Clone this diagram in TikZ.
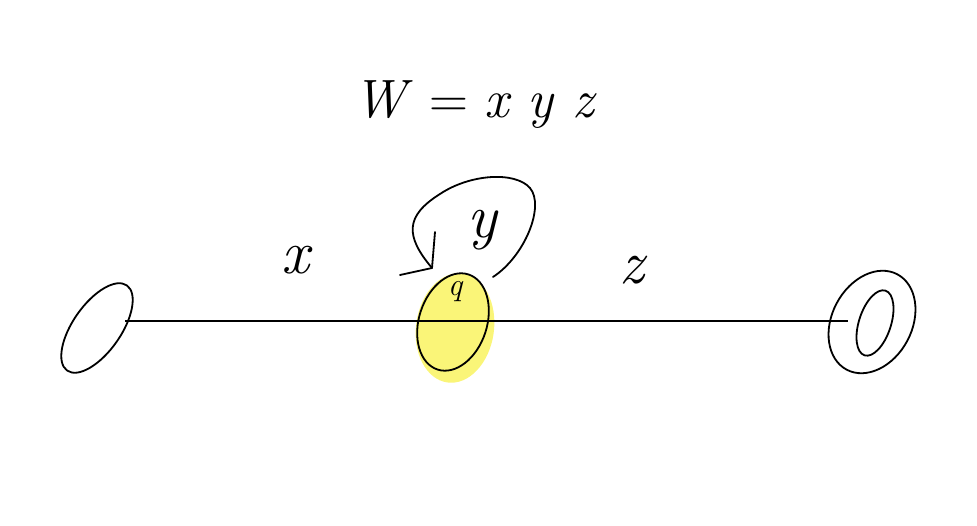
\documentclass[tikz,border=0pt]{standalone}
\usepackage{fontspec}
\usetikzlibrary{shapes.geometric}
\definecolor{hl}{RGB}{250,245,120}
\begin{document}
\begin{tikzpicture}[x=1pt,y=1pt,
  ink/.style={line width=1.8pt, black, line cap=round, line join=round},
  statebox/.style={ellipse, draw, line width=1.8pt, inner sep=0pt},
  lbl/.style={inner sep=0pt, font=\fontsize{62}{62}\selectfont\itshape}]
\useasboundingbox (0,0) rectangle (977,526);
% highlight
\node[ellipse, fill=hl, minimum width=110, minimum height=78, rotate=82, inner sep=0pt] (H) at (455,198) {};
% states
\node[statebox, minimum width=104, minimum height=48, rotate=55] (L) at (97,198) {};
\node[statebox, minimum width=100, minimum height=68, rotate=72] (M) at (453,204) {};
\node[statebox, minimum width=108, minimum height=80, rotate=62] (R) at (872,204) {};
\node[statebox, minimum width=68, minimum height=32, rotate=72] (Ri) at (875,203) {};
% main line
\coordinate (p1) at (125,205);
\coordinate (p2) at (848,205);
\draw[line width=1.4pt] (p1) -- (p2);
% loop
\coordinate (ls) at (493,249);
\coordinate (le) at (432,258);
\draw[ink] (ls) .. controls (525,270) and (545,320) .. (530,338)
  .. controls (515,355) and (470,352) .. (440,332)
  .. controls (405,310) and (405,290) .. (le);
\draw[ink] (435,294) -- (le) -- (400,251);
% labels
\node[inner sep=0pt, font=\fontsize{54}{54}\selectfont] (W) at (475,421) {\textit{W} = \textit{x y z}};
\node[lbl] (xl) at (295,266) {x};
\node[lbl] (yl) at (482,296) {y};
\node[lbl] (zl) at (632,256) {z};
\node[inner sep=0pt, font=\fontsize{32}{32}\selectfont\itshape] (q) at (455,234) {q};
\end{tikzpicture}
\end{document}
